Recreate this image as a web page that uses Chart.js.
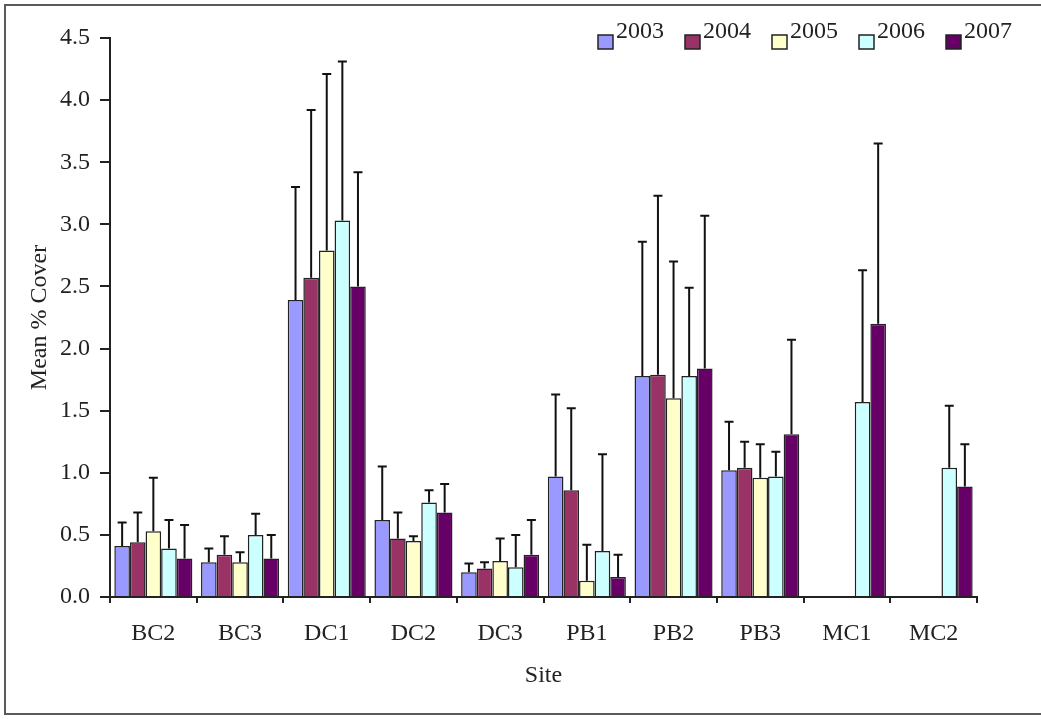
<!DOCTYPE html>
<html>
<head>
<meta charset="utf-8">
<script src="https://cdn.jsdelivr.net/npm/chart.js@4.4.1/dist/chart.umd.min.js"></script>
<style>
  html, body { margin: 0; padding: 0; background: #fff; overflow: hidden; }
  #wrap { position: relative; width: 1041px; height: 719px; }
  #frame { position: absolute; left: 4px; top: 4px; width: 1100px; height: 711px; border: 2px solid #5a5a5a; box-sizing: border-box; }
  canvas { position: absolute; left: 0; top: 0; }
</style>
</head>
<body>
<div id="wrap">
  <div id="frame"></div>
  <canvas id="myChart" width="1041" height="719"></canvas>
</div>
<script>
const sites = ['BC2', 'BC3', 'DC1', 'DC2', 'DC3', 'PB1', 'PB2', 'PB3', 'MC1', 'MC2'];
const years = ['2003', '2004', '2005', '2006', '2007'];

// mean % cover per year
const mean2003 = [0.41, 0.28, 2.39, 0.62, 0.20, 0.97, 1.78, 1.02, null, null];
const mean2004 = [0.44, 0.34, 2.57, 0.47, 0.23, 0.86, 1.79, 1.04, null, null];
const mean2005 = [0.53, 0.28, 2.79, 0.45, 0.29, 0.13, 1.60, 0.96, null, null];
const mean2006 = [0.39, 0.50, 3.03, 0.76, 0.24, 0.37, 1.78, 0.97, 1.57, 1.04];
const mean2007 = [0.31, 0.31, 2.50, 0.68, 0.34, 0.16, 1.84, 1.31, 2.20, 0.89];

// error bar (upper only)
const err2003 = [0.19, 0.11, 0.91, 0.43, 0.07, 0.66, 1.08, 0.39, null, null];
const err2004 = [0.24, 0.15, 1.35, 0.21, 0.05, 0.66, 1.44, 0.21, null, null];
const err2005 = [0.43, 0.08, 1.42, 0.04, 0.18, 0.29, 1.10, 0.27, null, null];
const err2006 = [0.23, 0.17, 1.28, 0.10, 0.26, 0.78, 0.71, 0.20, 1.06, 0.50];
const err2007 = [0.27, 0.19, 0.92, 0.23, 0.28, 0.18, 1.23, 0.76, 1.45, 0.34];

const yTicks = [0, 0.5, 1, 1.5, 2, 2.5, 3, 3.5, 4, 4.5];

const means = [mean2003, mean2004, mean2005, mean2006, mean2007];
const errs = [err2003, err2004, err2005, err2006, err2007];
const colors = ['#9999FF', '#993366', '#FFFFCC', '#CCFFFF', '#660066'];

const fontFamily = '"Liberation Serif", "Times New Roman", serif';
const fontSize = 24;

const errorBars = {
    id: 'errorBars',
    afterDatasetsDraw(chart) {
        const ctx = chart.ctx;
        const y = chart.scales.y;
        ctx.save();
        ctx.strokeStyle = '#111';
        ctx.lineWidth = 2;
        chart.data.datasets.forEach((ds, i) => {
            const meta = chart.getDatasetMeta(i);
            meta.data.forEach((bar, j) => {
                const v = ds.data[j];
                const e = ds.errors[j];
                if (v == null || e == null) return;
                const top = y.getPixelForValue(v + e);
                ctx.beginPath();
                ctx.moveTo(bar.x, bar.y);
                ctx.lineTo(bar.x, top);
                ctx.moveTo(bar.x - 4.5, top);
                ctx.lineTo(bar.x + 4.5, top);
                ctx.stroke();
            });
        });
        ctx.restore();
    }
};

const customLegend = {
    id: 'customLegend',
    afterDraw(chart) {
        const ctx = chart.ctx;
        const area = chart.chartArea;
        ctx.save();
        ctx.font = fontSize + 'px ' + fontFamily;
        ctx.textBaseline = 'alphabetic';
        ctx.textAlign = 'left';
        chart.data.datasets.forEach((ds, i) => {
            const x = area.right - 379 + i * 87;
            ctx.fillStyle = ds.backgroundColor;
            ctx.fillRect(x, area.top - 3, 15, 14);
            ctx.strokeStyle = '#222';
            ctx.lineWidth = 1.5;
            ctx.strokeRect(x, area.top - 3, 15, 14);
            ctx.fillStyle = '#222';
            ctx.fillText(ds.label, x + 18, area.top);
        });
        ctx.restore();
    }
};

const ctx = document.getElementById('myChart').getContext('2d');
const myChart = new Chart(ctx, {
    type: 'bar',
    data: {
        labels: sites,
        datasets: years.map((yr, i) => ({
            label: yr,
            data: means[i],
            errors: errs[i],
            backgroundColor: colors[i],
            borderColor: '#222',
            borderWidth: 1.5,
            categoryPercentage: 0.9,
            barPercentage: 1.0
        }))
    },
    options: {
        responsive: false,
        animation: false,
        layout: { padding: { top: 38, right: 64, bottom: 0, left: 0 } },
        plugins: {
            legend: { display: false },
            tooltip: { enabled: false }
        },
        scales: {
            x: {
                afterFit(scale) { scale.height = 122; },
                grid: {
                    display: true,
                    drawOnChartArea: false,
                    offset: true,
                    tickLength: 6,
                    color: '#222',
                    lineWidth: 2
                },
                border: { display: true, color: '#222', width: 2 },
                ticks: {
                    color: '#222',
                    font: { family: fontFamily, size: fontSize },
                    padding: 16,
                    maxRotation: 0
                },
                title: {
                    display: true,
                    text: 'Site',
                    color: '#222',
                    font: { family: fontFamily, size: fontSize },
                    padding: { top: 0, bottom: 29 }
                }
            },
            y: {
                min: 0,
                max: 4.5,
                afterFit(scale) { scale.width = 110; },
                afterBuildTicks(scale) { scale.ticks = yTicks.map(v => ({ value: v })); },
                grid: {
                    display: true,
                    drawOnChartArea: false,
                    tickLength: 10,
                    color: '#222',
                    lineWidth: 2
                },
                border: { display: true, color: '#222', width: 2 },
                ticks: {
                    color: '#222',
                    font: { family: fontFamily, size: fontSize },
                    padding: 10,
                    callback: v => Number(v).toFixed(1)
                },
                title: {
                    display: true,
                    text: 'Mean % Cover',
                    color: '#222',
                    font: { family: fontFamily, size: fontSize },
                    padding: { top: 25, bottom: 0 }
                }
            }
        }
    },
    plugins: [errorBars, customLegend]
});
</script>
</body>
</html>
